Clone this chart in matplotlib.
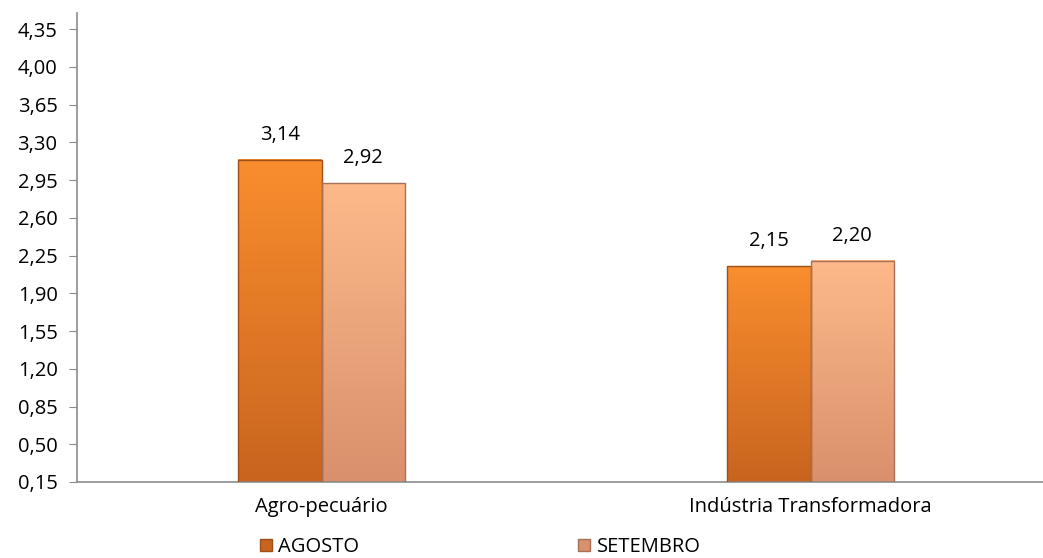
import numpy as np
import matplotlib
matplotlib.use('Agg')
import matplotlib.pyplot as plt
from matplotlib.patches import Patch
from matplotlib.colors import LinearSegmentedColormap

categories = ["Agro-pecuário", "Indústria Transformadora"]
agosto = [3.14, 2.15]
setembro = [2.92, 2.20]
series_names = ["AGOSTO", "SETEMBRO"]
yticks = [0.15, 0.50, 0.85, 1.20, 1.55, 1.90, 2.25, 2.60, 2.95, 3.30, 3.65, 4.00, 4.35]

plt.rcParams['font.family'] = ['Open Sans', 'DejaVu Sans']
fs = 14.5

fig = plt.figure(figsize=(10.43, 5.58), dpi=100)
ax = fig.add_axes([77 / 1043, 76 / 558, 978 / 1043, 469 / 558])

x = np.arange(len(categories))
width = 0.17
ymin = 0.15
ax.set_xlim(-0.5, len(categories) - 0.5)
ax.set_ylim(ymin, 4.5)

styles = [("#F98E2E", "#C8641F", "#9E5018"),
          ("#FDB98A", "#D9906C", "#A87058")]


def gradient_bar(x0, h, top, bottom, edge):
    cmap = LinearSegmentedColormap.from_list("g", [bottom, top])
    grad = np.linspace(0, 1, 256).reshape(-1, 1)
    ax.imshow(grad, cmap=cmap, aspect='auto', origin='lower',
              extent=(x0, x0 + width, ymin, h), zorder=2)
    ax.bar(x0, h - ymin, width, bottom=ymin, align='edge',
           facecolor='none', edgecolor=edge, linewidth=1.0, zorder=3)


for i, vals in enumerate([agosto, setembro]):
    top, bottom, edge = styles[i]
    for j, v in enumerate(vals):
        x0 = x[j] - width + i * width
        gradient_bar(x0, v, top, bottom, edge)
        ax.text(x0 + width / 2, v + 0.14, f"{v:.2f}".replace('.', ','),
                ha='center', va='bottom', fontsize=fs)

ax.set_yticks(yticks)
ax.set_yticklabels([f"{t:.2f}".replace('.', ',') for t in yticks], fontsize=fs)
ax.set_xticks(x)
ax.set_xticklabels(categories, fontsize=fs)
ax.tick_params(axis='x', length=0, pad=11)
ax.tick_params(axis='y', length=6, color='#8C8C8C', pad=8)

for s in ['top', 'right']:
    ax.spines[s].set_visible(False)
ax.spines['left'].set_color('#8C8C8C')
ax.spines['bottom'].set_color('#8C8C8C')
ax.spines['left'].set_linewidth(1.2)
ax.spines['bottom'].set_linewidth(1.2)

handles = [Patch(facecolor=styles[0][1], edgecolor=styles[0][2]),
           Patch(facecolor=styles[1][1], edgecolor=styles[1][2])]
fig.legend(handles, series_names, loc='center', bbox_to_anchor=(480 / 1043, 1 - 547 / 558),
           ncol=2, frameon=False, fontsize=fs, handlelength=0.6, handleheight=0.6,
           handletextpad=0.3, columnspacing=10.9)

fig.savefig("out.png", dpi=100)
